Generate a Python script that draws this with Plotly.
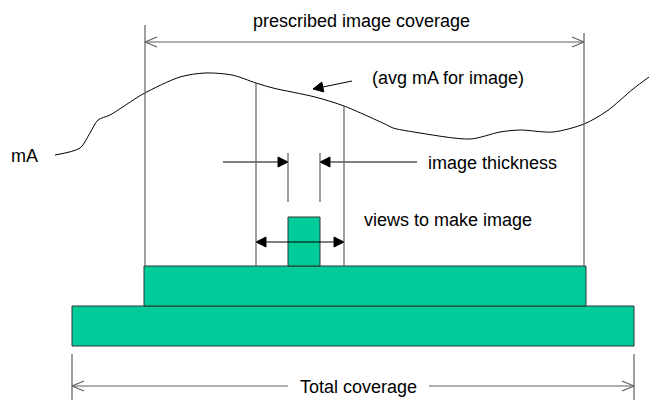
import math
import plotly.graph_objects as go

# ---- data (pixel-space diagram coordinates) ----
curve_x = [55, 80, 90, 98, 110, 143, 180, 205, 232, 256, 273, 315, 344, 387, 393, 414, 470, 500, 520, 553, 584, 607, 633, 649]
curve_y = [155, 148, 133, 120, 115, 94, 77, 73, 75, 83, 88, 97, 106, 125, 128, 132, 139, 132, 130, 132, 124, 111, 89, 77]

block_x0 = [72, 144, 288]
block_x1 = [634, 586, 320]
block_y0 = [306, 266, 217]
block_y1 = [346, 306, 266]

# vertical guide lines: x, y_top, y_bottom
guide_x = [145, 584, 256, 344, 288, 320, 72, 634]
guide_top = [25, 33, 83, 106, 153, 153, 354, 354]
guide_bot = [266, 266, 266, 266, 202, 202, 400, 400]

# dimension lines with open heads: (x0, x1, y, head at start, head at end)
dim_x0 = [145, 72, 429]
dim_x1 = [584, 288, 634]
dim_y = [42, 386, 386]
dim_head0 = [True, True, False]
dim_head1 = [True, False, True]

# arrows with filled heads: tail -> tip
arr_tail_x = [223, 417, 300, 300, 352]
arr_tail_y = [162, 162, 242, 242, 81]
arr_tip_x = [288, 320, 256, 344, 313]
arr_tip_y = [162, 162, 242, 242, 89]

labels = ["prescribed image coverage", "(avg mA for image)", "mA", "image thickness",
          "views to make image", "Total coverage"]
label_x = [361, 448, 24, 426, 362, 358]
label_y = [21, 78, 156, 163, 220, 387]
label_anchor = ["center", "center", "center", "left", "left", "center"]

TEAL = "#00CC99"
GREY = "#5f5f5f"
FONT = "Liberation Sans, Arial, sans-serif"

fig = go.Figure()


def head_pts(tipx, tipy, tailx, taily, L, W):
    dx, dy = tipx - tailx, tipy - taily
    n = math.hypot(dx, dy)
    ux, uy = dx / n, dy / n
    px, py = -uy, ux
    bx, by = tipx - ux * L, tipy - uy * L
    return ([bx + px * W, tipx, bx - px * W], [by + py * W, tipy, by - py * W])


# curve
fig.add_trace(go.Scatter(x=curve_x, y=curve_y, mode="lines",
                         line=dict(color="black", width=1, shape="spline", smoothing=0.8),
                         hoverinfo="skip"))

shapes = []
# blocks
for x0, x1, y0, y1 in zip(block_x0, block_x1, block_y0, block_y1):
    shapes.append(dict(type="rect", xref="x", yref="y", x0=x0, x1=x1, y0=y0, y1=y1,
                       fillcolor=TEAL, line=dict(color="#333333", width=1), layer="below"))
# guides
for x, t, b in zip(guide_x, guide_top, guide_bot):
    shapes.append(dict(type="line", xref="x", yref="y", x0=x, x1=x, y0=t, y1=b,
                       line=dict(color=GREY, width=1.2)))
# dimension lines
for x0, x1, y, h0, h1 in zip(dim_x0, dim_x1, dim_y, dim_head0, dim_head1):
    shapes.append(dict(type="line", xref="x", yref="y", x0=x0, x1=x1, y0=y, y1=y,
                       line=dict(color=GREY, width=1.2)))
    if h0:
        hx, hy = head_pts(x0, y, x1, y, 12, 5)
        fig.add_trace(go.Scatter(x=hx, y=hy, mode="lines", line=dict(color=GREY, width=1.2),
                                 hoverinfo="skip"))
    if h1:
        hx, hy = head_pts(x1, y, x0, y, 12, 5)
        fig.add_trace(go.Scatter(x=hx, y=hy, mode="lines", line=dict(color=GREY, width=1.2),
                                 hoverinfo="skip"))

# filled arrows
for tx, ty, px_, py_ in zip(arr_tail_x, arr_tail_y, arr_tip_x, arr_tip_y):
    fig.add_trace(go.Scatter(x=[tx, px_], y=[ty, py_], mode="lines",
                             line=dict(color="black", width=1), hoverinfo="skip"))
    hx, hy = head_pts(px_, py_, tx, ty, 10, 5)
    fig.add_trace(go.Scatter(x=hx + [hx[0]], y=hy + [hy[0]], mode="lines", fill="toself",
                             fillcolor="black", line=dict(color="black", width=1),
                             hoverinfo="skip"))

annotations = []
for t, x, y, a in zip(labels, label_x, label_y, label_anchor):
    annotations.append(dict(text=t, x=x, y=y, xref="x", yref="y", showarrow=False,
                            xanchor=a, yanchor="middle",
                            font=dict(family=FONT, size=18, color="black")))

fig.update_layout(
    width=649, height=400,
    margin=dict(l=0, r=0, t=0, b=0),
    paper_bgcolor="white", plot_bgcolor="white",
    showlegend=False,
    shapes=shapes, annotations=annotations,
    xaxis=dict(range=[0, 649], visible=False, fixedrange=True),
    yaxis=dict(range=[400, 0], visible=False, fixedrange=True),
)

fig.write_html("out.html", config={"displayModeBar": False},
               post_script="document.body.style.margin='0';document.body.style.overflow='hidden';")
